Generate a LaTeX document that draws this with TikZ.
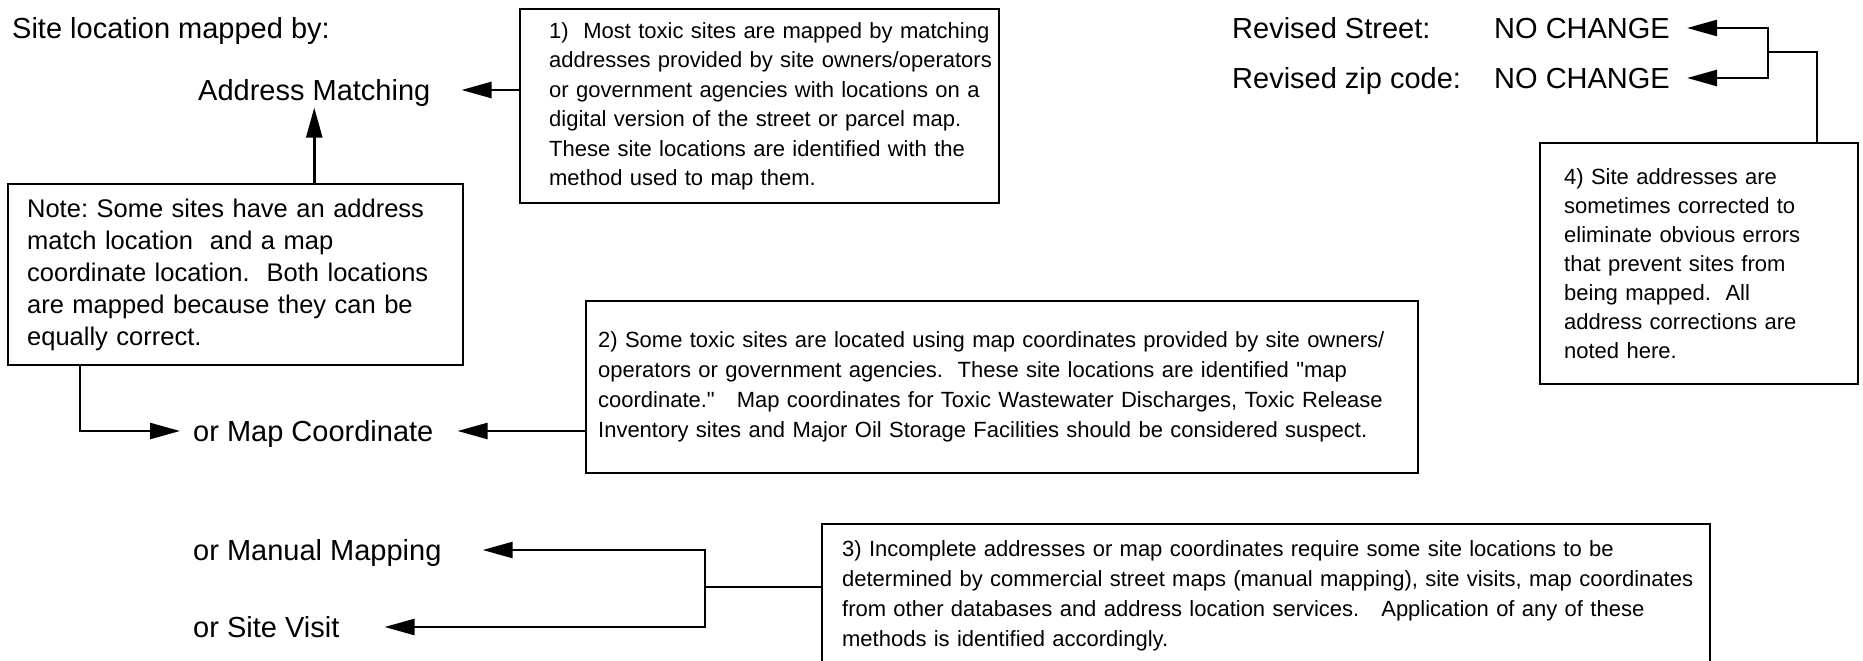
\documentclass[tikz,border=0pt]{standalone}
\usepackage{fontspec}
\setmainfont{Liberation Sans}[Ligatures=TeXOff]
\usetikzlibrary{arrows.meta, positioning, calc}

\begin{document}
\begin{tikzpicture}[
    x=1pt, y=-1pt,
    heading/.style={anchor=west, inner sep=0pt, text height=27.8pt, text depth=7pt, font=\fontsize{29}{35}\selectfont\frenchspacing},
    block/.style={rectangle, draw, line width=2.3pt, anchor=north west, align=left, inner sep=0pt, font=\fontsize{22}{30}\selectfont\frenchspacing},
    arrow/.style={-{Triangle[length=30pt, width=16pt]}, line width=2.5pt},
    link/.style={line width=2.5pt}
]
    \useasboundingbox (0,0) rectangle (1863,661);
    \clip (0,0) rectangle (1863,661);

    % Method labels
    \node[heading] (title) at (12,28) {Site location mapped by:};
    \node[heading] (am) at (198,90) {Address Matching};
    \node[heading] (mc) at (193,431) {or Map Coordinate};
    \node[heading] (mm) at (193,550) {or Manual Mapping};
    \node[heading] (sv) at (193,627) {or Site Visit};
    \node[heading] (street) at (1232,28) {Revised Street:};
    \node[heading] (zip) at (1232,78) {Revised zip code:};
    \node[heading] (nc1) at (1494,28) {NO CHANGE};
    \node[heading] (nc2) at (1494,78) {NO CHANGE};

    % Explanation boxes
    \node[block, minimum width=479pt, minimum height=194pt, text width=479pt, font=\fontsize{22}{29.5}\selectfont\frenchspacing] (box1) at (519,8)
        {\leftskip=29pt 1)\ \ Most toxic sites are mapped by matching\\
        addresses provided by site owners/operators\\
        or government agencies with locations on a\\
        digital version of the street or parcel map.\\
        These site locations are identified with the\\
        method used to map them.\par};
    \node[block, minimum width=455pt, minimum height=181pt, text width=455pt, font=\fontsize{25.5}{32}\selectfont\frenchspacing] (note) at (7,183)
        {\leftskip=19pt Note: Some sites have an address\\
        match location\ \ and a map\\
        coordinate location.\ \ Both locations\\
        are mapped because they can be\\
        equally correct.\par};
    \node[block, minimum width=832pt, minimum height=172pt, text width=832pt] (box2) at (585,300)
        {\leftskip=12pt 2) Some toxic sites are located using map coordinates provided by site owners/\\
        operators or government agencies.\ \ These site locations are identified "map\\
        coordinate."\ \ \ Map coordinates for Toxic Wastewater Discharges, Toxic Release\\
        Inventory sites and Major Oil Storage Facilities should be considered suspect.\par};
    \node[block, minimum width=888pt, minimum height=144pt, text width=888pt] (box3) at (821,523)
        {\leftskip=20pt 3) Incomplete addresses or map coordinates require some site locations to be\\
        determined by commercial street maps (manual mapping), site visits, map coordinates\\
        from other databases and address location services.\ \ \ Application of any of these\\
        methods is identified accordingly.\par};
    \node[block, minimum width=318pt, minimum height=241pt, text width=318pt, font=\fontsize{22}{29}\selectfont\frenchspacing] (box4) at (1539,142)
        {\leftskip=24pt 4) Site addresses are\\
        sometimes corrected to\\
        eliminate obvious errors\\
        that prevent sites from\\
        being mapped.\ \ All\\
        address corrections are\\
        noted here.\par};

    % Arrows
    \draw[arrow, shorten >=31pt] (box1.west |- am.east) -- (am.east);
    \draw[arrow] (note.north -| am.south) -- (am.south);
    \draw[arrow, shorten >=13pt] ([xshift=73pt]note.south west) |- (mc.west);
    \draw[arrow, shorten >=24pt] (box2.west |- mc.east) -- (mc.east);

    \coordinate (fork) at (705,587);
    \draw[link] (box3.west |- fork) -- (fork);
    \draw[arrow, shorten >=41pt] (fork) |- (mm.east);
    \draw[arrow, shorten >=45pt] (fork) |- (sv.east);

    \coordinate (merge) at (1768,52);
    \draw[link] ([xshift=118pt]box4.north) |- (merge);
    \draw[arrow, shorten >=17pt] (merge) |- (nc1.east);
    \draw[arrow, shorten >=17pt] (merge) |- (nc2.east);
\end{tikzpicture}
\end{document}
